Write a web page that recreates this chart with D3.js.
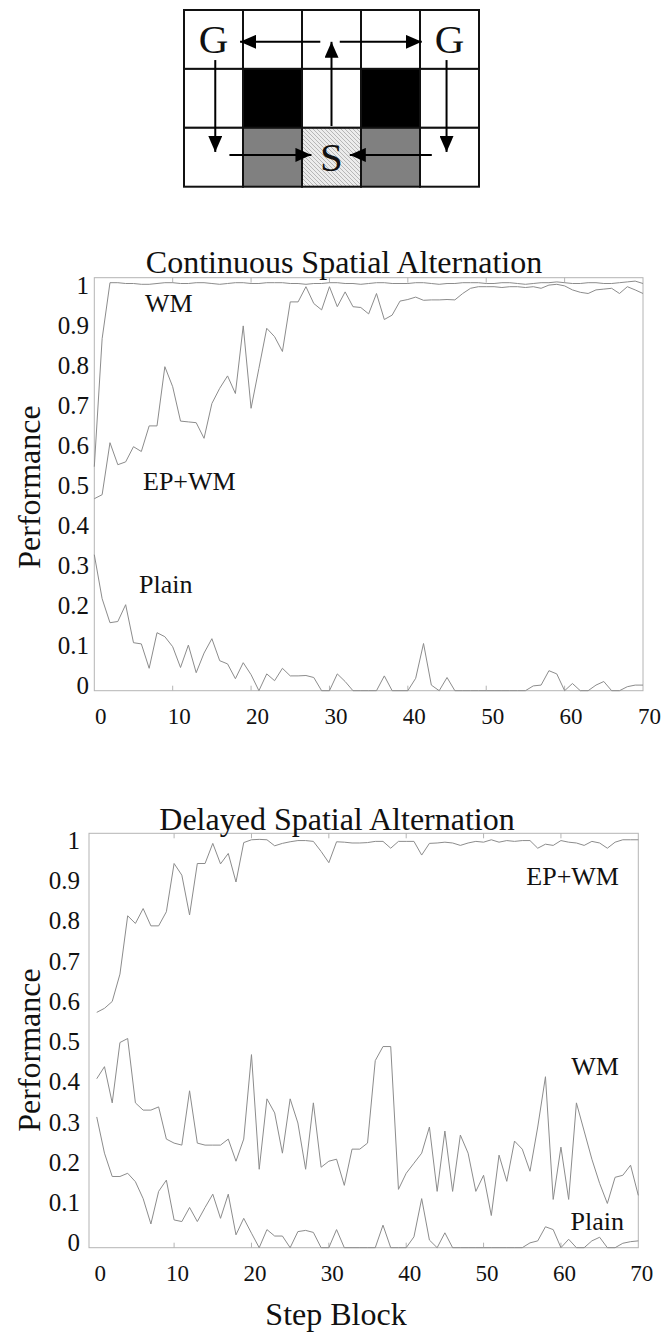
<!DOCTYPE html>
<html>
<head>
<meta charset="utf-8">
<script src="https://cdn.jsdelivr.net/npm/d3@7"></script>
<style>
  body { margin: 0; background: #fff; }
  text { font-family: "Liberation Serif", "Times New Roman", serif; fill: #111; }
</style>
</head>
<body>
<div id="fig"></div>
<script>
// ---- data ----
var xTicks = [0, 10, 20, 30, 40, 50, 60, 70];
var yTicks = [0, 0.1, 0.2, 0.3, 0.4, 0.5, 0.6, 0.7, 0.8, 0.9, 1];

// Continuous spatial alternation (blocks 0..70)
var contWM = [0.56, 0.88, 1.02, 1.02, 1.018, 1.018, 1.016, 1.016, 1.018, 1.02,
  1.02, 1.018, 1.018, 1.02, 1.02, 1.018, 1.016, 1.018, 1.02, 1.02,
  1.018, 1.018, 1.02, 1.02, 1.02, 1.018, 1.018, 1.016, 1.018, 1.018,
  1.02, 1.02, 1.018, 1.018, 1.016, 1.018, 1.02, 1.02, 1.018, 1.018,
  1.018, 1.02, 1.02, 1.018, 1.016, 1.018, 1.018, 1.02, 1.02, 1.02,
  1.018, 1.018, 1.02, 1.02, 1.018, 1.016, 1.018, 1.02, 1.02, 1.022,
  1.02, 1.018, 1.018, 1.02, 1.02, 1.018, 1.018, 1.02, 1.022, 1.024,
  1.018];
var contEPWM = [0.48, 0.49, 0.62, 0.565, 0.572, 0.61, 0.598, 0.662, 0.662, 0.81,
  0.76, 0.674, 0.672, 0.67, 0.631, 0.718, 0.756, 0.787, 0.743, 0.912,
  0.706, 0.806, 0.906, 0.885, 0.848, 0.972, 0.972, 1.01, 0.968, 0.952,
  1.01, 0.96, 0.997, 0.96, 0.958, 0.942, 0.993, 0.928, 0.939, 0.974,
  0.978, 0.984, 0.976, 0.977, 0.977, 0.978, 0.977, 0.993, 1.006, 1.01,
  1.01, 1.01, 1.008, 1.01, 1.01, 1.008, 1.01, 1.006, 1.014, 1.016,
  1.012, 1.002, 0.996, 0.993, 1.002, 1.004, 1.006, 0.993, 1.01, 1.002,
  0.993];
var contPlain = [0.34, 0.23, 0.17, 0.173, 0.215, 0.12, 0.117, 0.056, 0.145, 0.135,
  0.11, 0.058, 0.114, 0.045, 0.094, 0.13, 0.075, 0.067, 0.03, 0.07,
  0.04, 0, 0.042, 0.025, 0.056, 0.037, 0.037, 0.038, 0.033, 0,
  0, 0.042, 0.023, 0, 0, 0, 0, 0.037, 0, 0,
  0, 0.031, 0.118, 0.014, 0, 0.033, 0, 0, 0, 0,
  0, 0, 0, 0, 0, 0, 0.012, 0.014, 0.05, 0.042,
  0, 0.018, 0, 0, 0.014, 0.023, 0, 0, 0.01, 0.014,
  0.014];

// Delayed spatial alternation (blocks 0..70)
var delayEPWM = [0.585, 0.595, 0.612, 0.68, 0.825, 0.806, 0.843, 0.8, 0.8, 0.835,
  0.955, 0.926, 0.827, 0.955, 0.955, 1.005, 0.954, 0.98, 0.909, 1.007,
  1.014, 1.015, 1.014, 0.999, 1.005, 1.009, 1.012, 1.012, 1.01, 0.985,
  0.957, 1.009, 1.008, 1.006, 1.006, 1.007, 1.01, 1.01, 0.993, 1.01,
  1.01, 1.01, 0.976, 1.005, 1.006, 1.008, 1.006, 1.0, 1.006, 1.01,
  1.008, 1.014, 1.008, 1.012, 1.01, 1.012, 1.012, 0.993, 1.003, 1.0,
  1.012, 1.008, 1.006, 1.0, 1.01, 1.006, 0.993, 1.008, 1.014, 1.014,
  1.014];
var delayWM = [0.42, 0.45, 0.36, 0.51, 0.52, 0.36, 0.342, 0.342, 0.35, 0.27,
  0.26, 0.255, 0.39, 0.26, 0.255, 0.255, 0.255, 0.27, 0.215, 0.27,
  0.48, 0.195, 0.37, 0.335, 0.235, 0.37, 0.31, 0.195, 0.36, 0.2,
  0.215, 0.22, 0.155, 0.245, 0.245, 0.26, 0.465, 0.5, 0.5, 0.145,
  0.185, 0.21, 0.235, 0.3, 0.14, 0.29, 0.14, 0.28, 0.235, 0.14,
  0.18, 0.08, 0.23, 0.165, 0.265, 0.245, 0.19, 0.3, 0.425, 0.12,
  0.25, 0.12, 0.36, 0.29, 0.22, 0.16, 0.11, 0.175, 0.18, 0.205,
  0.13];
var delayPlain = [0.325, 0.235, 0.177, 0.177, 0.185, 0.164, 0.122, 0.059, 0.14, 0.168,
  0.069, 0.065, 0.1, 0.065, 0.1, 0.133, 0.073, 0.133, 0.032, 0.073,
  0.036, 0, 0.045, 0.029, 0.029, 0, 0.04, 0.043, 0.038, 0,
  0, 0.045, 0, 0, 0, 0, 0, 0.056, 0, 0,
  0, 0.027, 0.122, 0.019, 0, 0.037, 0, 0, 0, 0,
  0, 0, 0, 0, 0, 0, 0.012, 0.017, 0.052, 0.045,
  0, 0.021, 0, 0, 0.017, 0.026, 0, 0, 0.011, 0.015,
  0.017];

// maze diagram: cell types per row, letters, arrows (grid units)
var mazeCells = [
  ["open", "open", "open", "open", "open"],
  ["open", "wall", "open", "wall", "open"],
  ["open", "gray", "start", "gray", "open"]
];
var mazeLetters = [{c: 0, r: 0, t: "G"}, {c: 4, r: 0, t: "G"}, {c: 2, r: 2, t: "S"}];
var mazeArrows = [
  [2.31, 0.54, 0.95, 0.54],
  [2.64, 0.54, 4.03, 0.54],
  [2.5, 1.97, 2.5, 0.54],
  [0.53, 0.85, 0.53, 2.41],
  [4.45, 0.85, 4.45, 2.41],
  [0.77, 2.46, 2.16, 2.46],
  [4.2, 2.46, 2.81, 2.46]
];

// ---- svg ----
var W = 663, H = 1335;
var svg = d3.select("#fig").append("svg")
  .attr("width", W).attr("height", H);
svg.append("rect").attr("width", W).attr("height", H).attr("fill", "#fff");

var defs = svg.append("defs");
defs.append("marker")
  .attr("id", "head")
  .attr("markerUnits", "userSpaceOnUse")
  .attr("viewBox", "0 0 16 14")
  .attr("refX", 16).attr("refY", 7)
  .attr("markerWidth", 16).attr("markerHeight", 14)
  .attr("orient", "auto")
  .append("path").attr("d", "M0,0 L16,7 L0,14 Z").attr("fill", "#000");

var hatch = defs.append("pattern")
  .attr("id", "hatch")
  .attr("patternUnits", "userSpaceOnUse")
  .attr("width", 4).attr("height", 4);
hatch.append("rect").attr("width", 4).attr("height", 4).attr("fill", "#ececec");
hatch.append("path").attr("d", "M0,0 L4,4 M-1,3 L1,5 M3,-1 L5,1")
  .attr("stroke", "#a8a8a8").attr("stroke-width", 0.8);

// ---- maze ----
function drawMaze() {
  var gx = d3.scaleLinear().domain([0, 5]).range([184, 479]);
  var gy = d3.scaleLinear().domain([0, 3]).range([10, 186.7]);
  var fills = {open: "#fff", wall: "#000", gray: "#808080", start: "url(#hatch)"};
  var g = svg.append("g");

  var cells = [];
  mazeCells.forEach(function(row, r) {
    row.forEach(function(t, c) { cells.push({r: r, c: c, t: t}); });
  });
  g.selectAll("rect.cell").data(cells).enter().append("rect")
    .attr("class", "cell")
    .attr("x", function(d) { return gx(d.c); })
    .attr("y", function(d) { return gy(d.r); })
    .attr("width", gx(1) - gx(0))
    .attr("height", gy(1) - gy(0))
    .attr("fill", function(d) { return fills[d.t]; })
    .attr("stroke", "#111")
    .attr("stroke-width", 2);

  g.selectAll("text.lt").data(mazeLetters).enter().append("text")
    .attr("class", "lt")
    .attr("x", function(d) { return gx(d.c + 0.5); })
    .attr("y", function(d) { return gy(d.r + 0.5) + 14; })
    .attr("text-anchor", "middle")
    .style("font-size", "41px")
    .text(function(d) { return d.t; });

  g.selectAll("line.arrow").data(mazeArrows).enter().append("line")
    .attr("class", "arrow")
    .attr("x1", function(d) { return gx(d[0]); })
    .attr("y1", function(d) { return gy(d[1]); })
    .attr("x2", function(d) { return gx(d[2]); })
    .attr("y2", function(d) { return gy(d[3]); })
    .attr("stroke", "#000")
    .attr("stroke-width", 2)
    .attr("marker-end", "url(#head)");
}
drawMaze();

// ---- line panels ----
function drawPanel(p) {
  var x = d3.scaleLinear().domain(p.xDomain).range([p.left, p.right]);
  var y = d3.scaleLinear().domain([0, 1]).range([p.bottom, p.y1]);
  var g = svg.append("g");

  // frame
  g.append("rect")
    .attr("x", p.left).attr("y", p.top)
    .attr("width", p.right - p.left).attr("height", p.bottom - p.top)
    .attr("fill", "none").attr("stroke", "#b4b4b4").attr("stroke-width", 1);

  // little inward ticks top/bottom
  g.selectAll("line.tb").data(xTicks.slice(1, -1)).enter().append("line")
    .attr("x1", function(d) { return x(d); }).attr("x2", function(d) { return x(d); })
    .attr("y1", p.bottom).attr("y2", p.bottom - 5)
    .attr("stroke", "#b4b4b4");
  g.selectAll("line.tt").data(xTicks.slice(1, -1)).enter().append("line")
    .attr("x1", function(d) { return x(d); }).attr("x2", function(d) { return x(d); })
    .attr("y1", p.top).attr("y2", p.top + 5)
    .attr("stroke", "#b4b4b4");

  // x axis labels
  var xa = g.append("g")
    .attr("transform", "translate(0," + p.bottom + ")")
    .call(d3.axisBottom(x).tickValues(xTicks).tickSize(0).tickPadding(0));
  xa.select(".domain").remove();
  xa.selectAll("text")
    .attr("dx", p.xLabelShift)
    .attr("dy", null).attr("y", 33)
    .style("font-size", "23px")
    .style("font-family", '"Liberation Serif", serif')
    .attr("fill", "#111");

  // y axis labels
  var ya = g.append("g")
    .attr("transform", "translate(" + p.yLabelRight + ",0)")
    .call(d3.axisLeft(y).tickValues(yTicks).tickSize(0).tickPadding(0)
      .tickFormat(function(d) { return d === 0 || d === 1 ? d3.format("d")(d) : d3.format(".1f")(d); }));
  ya.select(".domain").remove();
  ya.selectAll("text")
    .attr("x", 0)
    .attr("dy", null).attr("y", 3)
    .style("font-size", "25px")
    .style("font-family", '"Liberation Serif", serif')
    .attr("fill", "#111");

  // series
  var line = d3.line()
    .x(function(d, i) { return x(i); })
    .y(function(d) { return y(d); });
  g.selectAll("path.series").data(p.series).enter().append("path")
    .attr("class", "series")
    .attr("d", function(d) { return line(d); })
    .attr("fill", "none")
    .attr("stroke", "#8c8c8c")
    .attr("stroke-width", 1);

  // annotations
  g.selectAll("text.ann").data(p.notes).enter().append("text")
    .attr("class", "ann")
    .attr("x", function(d) { return d.x; })
    .attr("y", function(d) { return d.y; })
    .attr("text-anchor", function(d) { return d.anchor || "start"; })
    .style("font-size", "26px")
    .text(function(d) { return d.t; });

  // title
  g.append("text")
    .attr("x", p.titleX).attr("y", p.titleY)
    .attr("text-anchor", "middle")
    .style("font-size", "32px")
    .text(p.title);

  // y title
  g.append("text")
    .attr("transform", "translate(40," + p.yTitleY + ") rotate(-90)")
    .attr("text-anchor", "middle")
    .style("font-size", "32px")
    .text("Performance");
}

drawPanel({
  title: "Continuous Spatial Alternation", titleX: 344, titleY: 273,
  left: 94.3, right: 643, top: 277.7, bottom: 690.7, y1: 290.7,
  xDomain: [0, 70], xLabelShift: 6, yLabelRight: 89, yTitleY: 487,
  series: [contWM, contEPWM, contPlain],
  notes: [
    {t: "WM", x: 145, y: 312},
    {t: "EP+WM", x: 143, y: 490},
    {t: "Plain", x: 139, y: 593}
  ]
});

drawPanel({
  title: "Delayed Spatial Alternation", titleX: 337, titleY: 830,
  left: 89, right: 638.3, top: 833.3, bottom: 1247.7, y1: 845.4,
  xDomain: [-1, 70], xLabelShift: 3, yLabelRight: 80, yTitleY: 1050,
  series: [delayEPWM, delayWM, delayPlain],
  notes: [
    {t: "EP+WM", x: 619, y: 885, anchor: "end"},
    {t: "WM", x: 619, y: 1075, anchor: "end"},
    {t: "Plain", x: 624, y: 1230, anchor: "end"}
  ]
});

svg.append("text")
  .attr("x", 336).attr("y", 1325)
  .attr("text-anchor", "middle")
  .style("font-size", "32px")
  .text("Step Block");
</script>
</body>
</html>
